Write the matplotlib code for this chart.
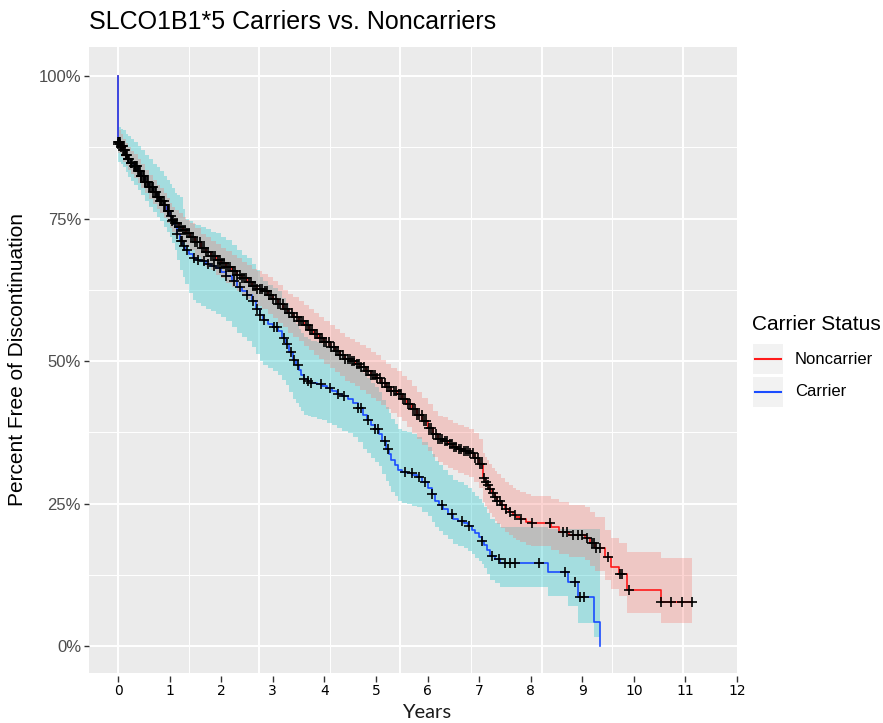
import numpy as np
import matplotlib
matplotlib.use("Agg")
import matplotlib.pyplot as plt
from matplotlib.patches import Rectangle
from matplotlib.lines import Line2D

# Kaplan-Meier step curves (years, percent)
nc_time = [0, 0, 0.05, 0.1, 0.15, 0.2, 0.25, 0.3, 0.38, 0.45,
           0.52, 0.6, 0.68, 0.75, 0.82, 0.9, 0.95, 1.0, 1.05, 1.1,
           1.18, 1.25, 1.32, 1.4, 1.5, 1.6, 1.7, 1.8, 1.9, 2.0,
           2.1, 2.2, 2.3, 2.4, 2.5, 2.6, 2.7, 2.8, 2.9, 3.0,
           3.1, 3.2, 3.3, 3.4, 3.5, 3.6, 3.7, 3.8, 3.9, 4.0,
           4.1, 4.2, 4.3, 4.4, 4.5, 4.6, 4.7, 4.8, 4.9, 5.0,
           5.1, 5.2, 5.3, 5.4, 5.5, 5.6, 5.7, 5.8, 5.9, 6.0,
           6.1, 6.2, 6.3, 6.4, 6.5, 6.6, 6.7, 6.8, 6.9, 7.0,
           7.08, 7.12, 7.15, 7.2, 7.25, 7.3, 7.35, 7.42, 7.5, 7.58,
           7.65, 7.72, 7.8, 7.9, 8.0, 8.4, 8.55, 8.75, 9.05, 9.15,
           9.25, 9.45, 9.55, 9.72, 9.86, 10.53, 11.13]
nc_surv = [100, 88.5, 87.8, 87, 86.2, 85.5, 84.8, 84.2, 83.3, 82.5,
           81.5, 80.5, 79.6, 78.8, 78.1, 77.3, 76.4, 75.5, 74.8, 74.2,
           73.6, 73, 72.4, 71.8, 70.8, 69.8, 69.1, 68.5, 67.8, 67.2,
           66.5, 65.8, 65.1, 64.5, 63.8, 63.2, 62.7, 62.2, 61.5, 60.8,
           60.0, 59.2, 58.4, 57.7, 57.0, 56.3, 55.5, 54.8, 54.0, 53.3,
           52.5, 51.8, 51.1, 50.4, 50.0, 49.5, 48.9, 48.3, 47.6, 47.0,
           46.2, 45.5, 44.8, 44.2, 43.4, 42.5, 41.5, 40.5, 39.4, 38.3,
           37.2, 36.3, 35.9, 35.5, 35.0, 34.6, 34.2, 33.8, 33.0, 32.0,
           29.5, 28.8, 28.2, 27.5, 26.8, 26.1, 25.5, 24.8, 24.0, 23.5,
           23.0, 22.6, 22.2, 21.8, 21.5, 20.8, 20.0, 19.5, 18.9, 18.0,
           17.2, 15.6, 13.9, 12.6, 9.8, 7.7, 7.7]
# distance of the confidence band above / below the curve
nc_band_up = [0, 2.0, 2.0, 2.0, 2.0, 2.0, 2.0, 2.1, 2.1, 2.1,
              2.1, 2.1, 2.1, 2.1, 2.2, 2.2, 2.2, 2.2, 2.3, 2.3,
              2.3, 2.3, 2.4, 2.4, 2.5, 2.5, 2.6, 2.6, 2.7, 2.7,
              2.8, 2.8, 2.9, 2.9, 3.0, 3.0, 3.1, 3.1, 3.2, 3.2,
              3.3, 3.3, 3.4, 3.5, 3.5, 3.6, 3.6, 3.7, 3.7, 3.8,
              3.8, 3.8, 3.8, 3.9, 3.9, 3.9, 3.9, 4.0, 4.0, 4.0,
              4.0, 4.0, 4.0, 4.0, 4.0, 4.1, 4.1, 4.1, 4.1, 4.1,
              4.1, 4.1, 4.2, 4.2, 4.2, 4.2, 4.2, 4.3, 4.3, 4.3,
              4.3, 4.4, 4.4, 4.5, 4.5, 4.6, 4.6, 4.7, 4.8, 4.8,
              4.8, 4.8, 4.8, 4.8, 4.8, 5.0, 5.2, 5.3, 5.5, 5.5,
              5.5, 4.8, 5.1, 5.4, 6.7, 7.7, 7.7]
nc_band_dn = [0, 2.0, 2.0, 2.0, 2.0, 2.0, 2.0, 2.1, 2.1, 2.1,
              2.1, 2.1, 2.1, 2.1, 2.2, 2.2, 2.2, 2.2, 2.2, 2.2,
              2.3, 2.3, 2.4, 2.4, 2.5, 2.5, 2.6, 2.6, 2.7, 2.7,
              2.8, 2.8, 2.9, 2.9, 3.0, 3.0, 3.1, 3.1, 3.2, 3.2,
              3.3, 3.3, 3.4, 3.5, 3.5, 3.6, 3.6, 3.7, 3.7, 3.8,
              3.8, 3.8, 3.8, 3.9, 3.9, 3.9, 3.9, 4.0, 4.0, 4.0,
              4.0, 4.0, 4.0, 4.0, 4.0, 4.1, 4.1, 4.1, 4.1, 4.1,
              4.1, 4.1, 4.2, 4.2, 4.2, 4.2, 4.2, 4.2, 4.2, 4.2,
              4.2, 4.2, 4.2, 4.2, 4.1, 4.1, 4.1, 4.1, 4.0, 4.0,
              4.0, 4.0, 4.0, 4.0, 4.0, 4.0, 3.9, 3.9, 3.9, 4.0,
              4.0, 4.1, 3.9, 3.8, 4.0, 3.7, 3.7]

c_time = [0, 0, 0.05, 0.1, 0.15, 0.2, 0.25, 0.3, 0.38, 0.45,
          0.52, 0.6, 0.68, 0.75, 0.82, 0.9, 0.95, 1.0, 1.05, 1.1,
          1.15, 1.2, 1.25, 1.3, 1.38, 1.45, 1.52, 1.6, 1.7, 1.8,
          1.9, 2.0, 2.1, 2.2, 2.3, 2.4, 2.5, 2.6, 2.68, 2.75,
          2.82, 2.9, 3.0, 3.1, 3.18, 3.25, 3.32, 3.4, 3.45, 3.5,
          3.55, 3.6, 3.68, 3.75, 3.85, 3.95, 4.05, 4.15, 4.25, 4.35,
          4.45, 4.55, 4.65, 4.75, 4.82, 4.9, 4.98, 5.05, 5.12, 5.2,
          5.25, 5.3, 5.36, 5.42, 5.5, 5.6, 5.7, 5.8, 5.9, 6.0,
          6.08, 6.15, 6.22, 6.3, 6.4, 6.5, 6.6, 6.7, 6.78, 6.86,
          6.93, 7.0, 7.05, 7.1, 7.16, 7.22, 7.3, 7.4, 8.33, 8.72,
          8.91, 9.22, 9.34]
c_surv = [100, 88, 87.5, 87, 86.2, 85.5, 84.8, 84.2, 83.3, 82.5,
          81.5, 80.5, 79.6, 78.8, 78.1, 77.3, 76.4, 75.5, 74.5, 73.5,
          72.3, 71, 70.2, 69.5, 68.7, 68, 67.8, 67.5, 67.1, 66.7,
          66.3, 65.7, 65, 64, 63, 62.2, 61.5, 60.5, 59.2, 58,
          57.2, 56.5, 55.9, 55.2, 54.1, 53, 51.6, 50.2, 49.3, 48.4,
          47.6, 46.8, 46.5, 46.2, 45.9, 45.6, 45.2, 44.8, 44.3, 43.8,
          43.3, 42.7, 41.8, 40.5, 39.7, 38.8, 38.0, 37.2, 35.9, 34.6,
          33.6, 32.6, 31.8, 30.9, 30.6, 30.3, 30.0, 29.6, 28.7, 27.8,
          26.6, 25.5, 24.7, 24.0, 23.1, 22.3, 21.9, 21.5, 21.0, 20.4,
          19.8, 19.2, 18.5, 17.8, 16.8, 15.8, 15.2, 14.6, 13.0, 11.2,
          8.6, 4.2, 0]
c_band_up = [0, 3.0, 3.2, 3.5, 3.7, 4.0, 4.1, 4.3, 4.5, 4.5,
             4.6, 5.0, 5.0, 5.2, 5.2, 5.2, 5.3, 5.5, 5.8, 6.0,
             6.8, 7.8, 6.5, 5.5, 5.8, 6.0, 6.0, 6.0, 6.0, 6.0,
             6.1, 6.1, 6.2, 6.3, 6.4, 6.4, 6.5, 6.6, 6.7, 6.8,
             6.8, 6.9, 6.9, 7.0, 7.0, 7.1, 7.1, 7.2, 7.2, 7.3,
             7.3, 7.4, 7.4, 7.4, 7.4, 7.4, 7.4, 7.4, 7.4, 7.4,
             7.4, 7.4, 7.4, 7.4, 7.4, 7.4, 7.4, 7.3, 7.3, 7.3,
             7.3, 7.3, 7.2, 7.2, 7.2, 7.2, 7.2, 7.1, 7.1, 7.1,
             7.0, 7.0, 7.0, 6.9, 6.9, 6.8, 6.8, 6.8, 6.7, 6.7,
             6.6, 6.6, 6.6, 6.5, 6.5, 6.4, 6.3, 6.3, 7.6, 9.4,
             12.0, 16.4, 0]
c_band_dn = [0, 3.0, 3.0, 3.0, 3.1, 3.2, 3.2, 3.3, 3.3, 3.4,
             3.4, 3.5, 3.5, 3.6, 3.6, 3.7, 3.7, 3.7, 3.8, 4.0,
             4.5, 5.0, 5.5, 6.0, 6.8, 7.3, 7.6, 7.8, 8.0, 8.0,
             8.0, 8.0, 8.0, 8.0, 8.0, 8.0, 8.0, 8.0, 8.0, 8.0,
             7.9, 7.8, 7.7, 7.6, 7.4, 7.2, 7.0, 6.8, 6.6, 6.5,
             6.4, 6.3, 6.2, 6.1, 6.0, 6.0, 6.0, 6.0, 6.0, 6.0,
             6.0, 6.0, 6.0, 5.9, 5.9, 5.8, 5.8, 5.7, 5.7, 5.6,
             5.6, 5.5, 5.5, 5.5, 5.5, 5.4, 5.4, 5.3, 5.2, 5.0,
             4.8, 4.6, 4.5, 4.5, 4.4, 4.4, 4.4, 4.3, 4.3, 4.3,
             4.3, 4.3, 4.2, 4.2, 4.2, 4.2, 4.2, 4.2, 4.2, 4.2,
             4.6, 2.7, 0]

# censoring times (+ marks)
nc_censor = [0.0, 0.01, 0.02, 0.03, 0.05, 0.07, 0.09, 0.11, 0.13, 0.15, 0.18, 0.2, 0.22, 0.25,
             0.27, 0.3, 0.32, 0.35, 0.37, 0.4, 0.43, 0.45, 0.48, 0.5, 0.53, 0.56, 0.59, 0.62,
             0.65, 0.68, 0.71, 0.74, 0.77, 0.8, 0.83, 0.86, 0.89, 0.92, 0.96, 0.99, 1.02, 1.06,
             1.1, 1.14, 1.18, 1.22, 1.26, 1.3, 1.34, 1.38, 1.42, 1.46, 1.5, 1.54, 1.58, 1.62,
             1.67, 1.71, 1.75, 1.8, 1.84, 1.88, 1.93, 1.97, 2.01, 2.05, 2.1, 2.14, 2.18, 2.23,
             2.27, 2.31, 2.36, 2.4, 2.44, 2.49, 2.53, 2.57, 2.62, 2.66, 2.7, 2.75, 2.79, 2.84,
             2.88, 2.92, 2.97, 3.01, 3.06, 3.1, 3.14, 3.19, 3.23, 3.28, 3.32, 3.37, 3.41, 3.46,
             3.5, 3.55, 3.59, 3.64, 3.68, 3.73, 3.77, 3.82, 3.86, 3.91, 3.95, 4.0, 4.04, 4.09,
             4.13, 4.18, 4.22, 4.27, 4.31, 4.36, 4.4, 4.45, 4.49, 4.54, 4.58, 4.63, 4.67, 4.72,
             4.76, 4.81, 4.85, 4.9, 4.94, 4.99, 5.03, 5.08, 5.12, 5.17, 5.21, 5.26, 5.3, 5.35,
             5.39, 5.44, 5.48, 5.53, 5.57, 5.62, 5.66, 5.71, 5.75, 5.8, 5.84, 5.89, 5.93, 5.98,
             6.02, 6.07, 6.11, 6.16, 6.2, 6.25, 6.29, 6.34, 6.38, 6.43, 6.47, 6.52, 6.56, 6.61,
             6.65, 6.7, 6.74, 6.79, 6.83, 6.88, 6.92, 6.97, 7.01, 7.05, 7.1, 7.14, 7.18, 7.22,
             7.26, 7.3, 7.35, 7.4, 7.45, 7.52, 7.6, 7.7, 7.82, 8.02, 8.38, 8.62, 8.7, 8.82,
             8.92, 9.0, 9.1, 9.18, 9.22, 9.27, 9.35, 9.5, 9.74, 9.77, 9.9, 10.53, 10.72, 10.93,
             11.13]
c_censor = [0.0, 0.03, 0.06, 0.1, 0.15, 0.2, 0.26, 0.32, 0.38, 0.45, 0.52, 0.6, 0.67, 0.75,
            0.82, 0.9, 0.97, 1.05, 1.15, 1.22, 1.24, 1.27, 1.33, 1.47, 1.55, 1.66, 1.75, 1.86,
            1.98, 2.1, 2.24, 2.37, 2.5, 2.62, 2.7, 2.76, 2.83, 3.02, 3.09, 3.22, 3.28, 3.35,
            3.41, 3.48, 3.61, 3.68, 3.75, 3.94, 4.1, 4.26, 4.39, 4.65, 4.72, 4.85, 4.98, 5.04,
            5.17, 5.24, 5.56, 5.69, 5.83, 5.95, 6.08, 6.28, 6.47, 6.67, 6.8, 7.06, 7.25, 7.39,
            7.5, 7.6, 7.7, 8.17, 8.67, 8.85, 8.95, 9.04]

x_ticks = list(range(0, 13))
y_ticks = [0, 25, 50, 75, 100]
y_ticklabels = ["0%", "25%", "50%", "75%", "100%"]
day_breaks_major = [0, 1000, 2000, 3000, 4000]
day_breaks_minor = [500, 1500, 2500, 3500]

W, H = 883, 723
fx = lambda px: px / W
fy = lambda py: 1 - py / H

fig = plt.figure(figsize=(W / 100, H / 100), dpi=100)
ax = fig.add_axes([fx(89), fy(673), (737 - 89) / W, (673 - 47) / H])
ax.set_facecolor("#EBEBEB")
for s in ax.spines.values():
    s.set_visible(False)

# grid: vertical lines follow the old day-based breaks
for d in day_breaks_major:
    ax.axvline(d / 365.25, color="white", lw=1.4, zorder=0.5)
for d in day_breaks_minor:
    ax.axvline(d / 365.25, color="white", lw=0.7, zorder=0.5)
for v in y_ticks:
    ax.axhline(v, color="white", lw=1.4, zorder=0.5)
for v in [12.5, 37.5, 62.5, 87.5]:
    ax.axhline(v, color="white", lw=0.7, zorder=0.5)

def km_at(times, surv, t):
    i = np.searchsorted(times, t, side="right") - 1
    return np.asarray(surv)[i]

nc_s = np.array(nc_surv)
c_s = np.array(c_surv)

# confidence bands
ax.fill_between(c_time, c_s - np.array(c_band_dn), c_s + np.array(c_band_up), step="post",
                color="#00BFC4", alpha=0.3, lw=0, zorder=1)
ax.fill_between(nc_time, nc_s - np.array(nc_band_dn), nc_s + np.array(nc_band_up), step="post",
                color="#F8766D", alpha=0.3, lw=0, zorder=1)

# survival curves
ax.step(nc_time, nc_surv, where="post", color="#FF1A1A", lw=1.2, zorder=2)
ax.step(c_time, c_surv, where="post", color="#1A4CFF", lw=1.2, zorder=2)

# censor marks
ax.plot(nc_censor, km_at(nc_time, nc_surv, nc_censor), ls="none", marker="+",
        ms=7.5, mew=1.2, color="black", zorder=3)
ax.plot(c_censor, km_at(c_time, c_surv, c_censor), ls="none", marker="+",
        ms=7.5, mew=1.2, color="black", zorder=3)

ax.set_xlim(-0.563, 12.0)
ax.set_ylim(-4.74, 105.1)
ax.set_xticks(x_ticks)
ax.set_xticklabels([str(v) for v in x_ticks], fontfamily="Lato", fontsize=12.5, color="#333333")
ax.set_yticks(y_ticks)
ax.set_yticklabels(y_ticklabels, fontfamily="Liberation Sans", fontsize=12, color="#4D4D4D")
ax.spines["bottom"].set_position(("outward", 2))
ax.tick_params(axis="x", length=4, width=1, color="#333333", pad=2)
ax.tick_params(axis="y", length=3.7, width=1, color="#333333", pad=2)

fig.text(fx(89), fy(22), "SLCO1B1*5 Carriers vs. Noncarriers", ha="left", va="center",
         fontsize=18, fontfamily="Liberation Sans", color="black")
fig.text(fx(427), fy(713), "Years", ha="center", va="center", fontsize=14.5,
         fontfamily="Lato", color="#1A1A1A")
fig.text(fx(18), fy(360), "Percent Free of Discontinuation", ha="center", va="center",
         rotation=90, fontsize=15, fontfamily="Liberation Sans", color="black")

# legend
fig.text(fx(752), fy(325), "Carrier Status", ha="left", va="center", fontsize=15,
         fontfamily="Liberation Sans", color="black")
legend_items = [("Noncarrier", "#FF1A1A", 359), ("Carrier", "#1A4CFF", 392)]
for label, col, yc in legend_items:
    fig.add_artist(Rectangle((fx(753), fy(yc + 15)), 30 / W, 30 / H,
                             transform=fig.transFigure, color="#F2F2F2", lw=0))
    fig.add_artist(Line2D([fx(755), fx(781)], [fy(yc), fy(yc)], transform=fig.transFigure,
                          color=col, lw=1.5))
    fig.text(fx(795), fy(yc), label, ha="left", va="center", fontsize=12,
             fontfamily="Liberation Sans", color="black")

fig.savefig("out.png", dpi=100, facecolor="white")
